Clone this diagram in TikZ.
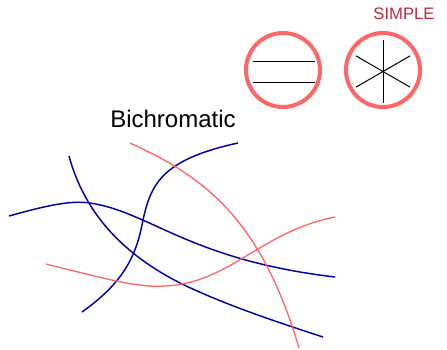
\documentclass[tikz,border=0pt]{standalone}
\usepackage{fontspec}
\setmainfont{Liberation Sans}
\usetikzlibrary{positioning}
\definecolor{DeepBlue}{RGB}{0,0,160}
\definecolor{SoftRed}{RGB}{255,102,102}
\definecolor{Crimson}{RGB}{190,40,60}
\tikzset{
  ring/.style={draw=SoftRed,line width=3pt},
  bar/.style={draw=black,line width=0.75pt},
  bluecurve/.style={DeepBlue,line width=1.1pt},
  redcurve/.style={SoftRed,line width=1pt}
}

\begin{document}
\begin{tikzpicture}[x=0.75pt,y=-0.75pt]
      \useasboundingbox (0,0) rectangle (447,350);
      % the two symbols
      \draw[ring] (283,70) circle[radius=27.75pt];
      \draw[bar] (253,61) -- (315,61);
      \draw[bar] (253,82) -- (315,82);
      \draw[ring] (383,70) circle[radius=27.75pt];
      \foreach \a in {30,90,150}
        \draw[bar] (383,71.5) ++(\a:23.5pt) -- ++(\a+180:47pt);
      \node[text=Crimson,font=\fontsize{12.5}{14}\selectfont,inner sep=0pt] (simple) at (404,14) {SIMPLE};
      \node[font=\fontsize{18}{21}\selectfont,inner sep=0pt] (title) at (173,119) {Bichromatic};
      % blue lines
      \draw[bluecurve] (9,216) .. controls (45,206) and (70,200) .. (90,203)
        .. controls (150,212) and (190,260) .. (335,277);
      \draw[bluecurve] (69,156) .. controls (85,215) and (125,255) .. (180,283)
        .. controls (225,305) and (280,323) .. (323,337);
      \draw[bluecurve] (82,312) .. controls (120,285) and (135,260) .. (142,225)
        .. controls (150,185) and (160,160) .. (238,143);
      % red lines
      \draw[redcurve] (130,143) .. controls (200,175) and (260,215) .. (299,348);
      \draw[redcurve] (46,264) .. controls (110,280) and (140,288) .. (165,286)
        .. controls (230,283) and (260,232) .. (335,217);
    \end{tikzpicture}
\end{document}
